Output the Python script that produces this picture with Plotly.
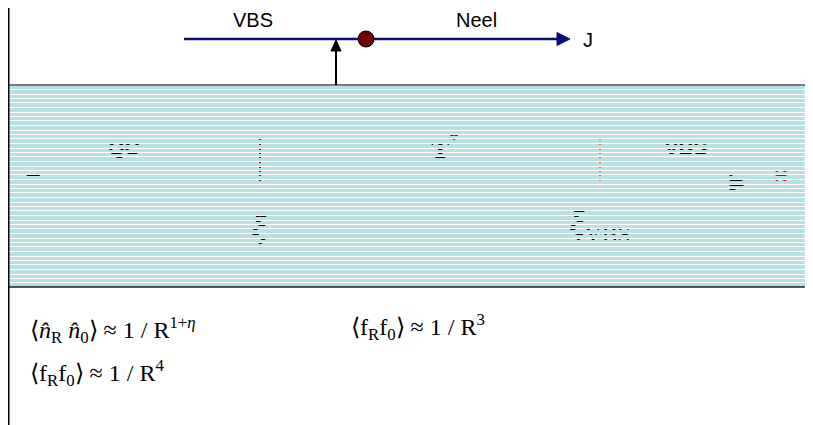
import plotly.graph_objects as go

# ---------------- content ----------------
phase_labels = ["VBS", "Neel"]
axis_label = "J"
region_labels = ["<b>QC</b>", "<b>T</b><sup>*</sup>", "<b>VBS</b>"]
length_labels = ["<b><i>ξ</i></b>", "<b><i>ξ</i></b><sub>VBS</sub>"]
edge_symbols = ["=", "▶", "H"]
equations = [
    "⟨<i>n̂</i><sub>R</sub> <i>n̂</i><sub>0</sub>⟩ ≈ 1 / R<sup>1+<i>η</i></sup>",
    "⟨f<sub>R</sub>f<sub>0</sub>⟩ ≈ 1 / R<sup>4</sup>",
    "⟨f<sub>R</sub>f<sub>0</sub>⟩ ≈ 1 / R<sup>3</sup>",
]

# ---------------- layout geometry (page pixel space) ----------------
W, H = 813, 425
OFF = 8  # the page body margin shifts the figure by 8 px
NAVY = "#0c0c7a"
BAND = "#b9e0e3"
band_top, band_bot, band_left = 85.5, 287.0, 9.0
stripe_first, stripe_period = 89.0, 4.5

fig = go.Figure()

sans = "Liberation Sans, Arial, sans-serif"
serif = "Liberation Serif, Times New Roman, serif"
region_pos = [(124, 150), (445, 151), (686, 150)]
region_fonts = [dict(family=sans, size=21), dict(family=serif, size=27), dict(family=sans, size=21)]
for lab, (x, y), f in zip(region_labels, region_pos, region_fonts):
    fig.add_trace(go.Scatter(x=[x], y=[y], mode="text", text=[lab],
                             textfont=dict(color="black", **f), hoverinfo="skip"))
length_pos = [(259, 230), (600, 226)]
for lab, (x, y) in zip(length_labels, length_pos):
    fig.add_trace(go.Scatter(x=[x], y=[y], mode="text", text=[lab],
                             textfont=dict(color="black", family=serif, size=34), hoverinfo="skip"))
edge_pos = [(33, 182), (738, 183), (781, 177)]
edge_cols = ["black", "black", "#e00000"]
edge_sizes = [26, 22, 18]
for lab, (x, y), c, s in zip(edge_symbols, edge_pos, edge_cols, edge_sizes):
    fig.add_trace(go.Scatter(x=[x], y=[y], mode="text", text=["<b>" + lab + "</b>"],
                             textfont=dict(color=c, family=sans, size=s), hoverinfo="skip"))
for xv, col in [(260, "#b00000"), (600, "#ff6a00")]:
    fig.add_trace(go.Scatter(x=[xv, xv], y=[137, 181], mode="lines",
                             line=dict(color=col, width=2), hoverinfo="skip"))

fig.add_trace(go.Scatter(x=[184, 560], y=[39, 39], mode="lines",
                         line=dict(color=NAVY, width=2.5), hoverinfo="skip"))

shapes = []
XR = W + OFF
shapes.append(dict(type="rect", x0=band_left, x1=XR, y0=band_top, y1=band_bot,
                   fillcolor=BAND, line=dict(width=0), layer="below"))
mask, white = [], []
k = 0
while True:
    y = round(stripe_first + k * stripe_period)
    if y >= band_bot - 1:
        break
    ynext = min(round(stripe_first + (k + 1) * stripe_period), band_bot)
    white.append(f"M{band_left},{y} H{XR} V{y+1} H{band_left} Z")
    mask.append(f"M{band_left},{y+2} H{XR} V{ynext} H{band_left} Z")
    k += 1
mask.append(f"M{band_left},{band_top} H{XR} V{stripe_first} H{band_left} Z")
shapes.append(dict(type="path", path=" ".join(mask), fillcolor=BAND,
                   line=dict(width=0), layer="above"))
shapes.append(dict(type="path", path=" ".join(white), fillcolor="white",
                   line=dict(width=0), layer="above"))
shapes.append(dict(type="line", x0=band_left, x1=XR, y0=band_top - 0.5, y1=band_top - 0.5,
                   line=dict(color="#7a7a7a", width=2), layer="above"))
shapes.append(dict(type="line", x0=band_left, x1=XR, y0=band_bot, y1=band_bot,
                   line=dict(color="#222222", width=1.5), layer="above"))
shapes.append(dict(type="line", x0=8.5, x1=8.5, y0=0, y1=H + OFF,
                   line=dict(color="black", width=2), layer="above"))
shapes.append(dict(type="path", path="M557,32.5 L570,39 L557,45.5 Z",
                   fillcolor=NAVY, line=dict(color=NAVY, width=1)))
shapes.append(dict(type="circle", x0=358, x1=374, y0=31, y1=47,
                   fillcolor="#700000", line=dict(color="black", width=1)))
shapes.append(dict(type="line", x0=336, x1=336, y0=85, y1=49,
                   line=dict(color="black", width=2)))
shapes.append(dict(type="path", path="M331,51 L336,40 L341,51 Z",
                   fillcolor="black", line=dict(color="black", width=1)))

annotations = []
for lab, x in zip(phase_labels, [253, 476]):
    annotations.append(dict(x=x, y=20, text=lab, showarrow=False,
                            font=dict(family=sans, size=20, color="black")))
annotations.append(dict(x=588, y=40, text=axis_label, showarrow=False,
                        font=dict(family=sans, size=20, color="black")))
eq_pos = [(28, 330), (28, 373), (349, 327)]
for eq, (x, y) in zip(equations, eq_pos):
    annotations.append(dict(x=x, y=y, text=eq, showarrow=False, xanchor="left",
                            yanchor="middle",
                            font=dict(family=serif, size=24, color="black")))

fig.update_layout(
    width=W, height=H, margin=dict(l=0, r=0, t=0, b=0),
    paper_bgcolor="white", plot_bgcolor="white", showlegend=False,
    xaxis=dict(range=[OFF, W + OFF], visible=False, fixedrange=True),
    yaxis=dict(range=[H + OFF, OFF], visible=False, fixedrange=True),
    shapes=shapes, annotations=annotations,
)
fig.write_html("out.html")
